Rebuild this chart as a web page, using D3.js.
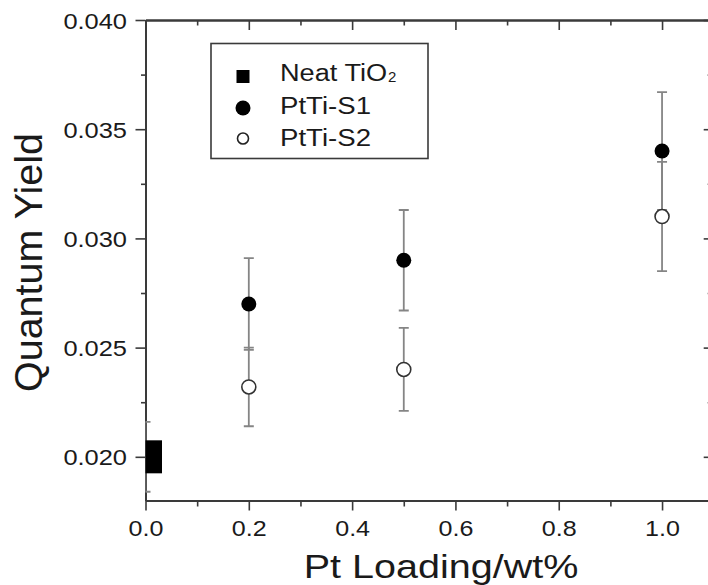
<!DOCTYPE html>
<html>
<head>
<meta charset="utf-8">
<script src="https://cdn.jsdelivr.net/npm/d3@7/dist/d3.min.js"></script>
<style>
  html, body { margin: 0; padding: 0; background: #fff; }
  svg { display: block; }
  text { font-family: "Liberation Sans", Arial, Helvetica, sans-serif; fill: #1a1a1a; }
</style>
</head>
<body>
<script>
// ---- data ----
const loadings = [0.2, 0.5, 1.0];
const s1Values = [0.027, 0.029, 0.034];
const s1Errors = [0.0021, 0.0023, 0.0027];
const s2Values = [0.0232, 0.024, 0.031];
const s2Errors = [0.0018, 0.0019, 0.0025];
const neatLoading = [0.0];
const neatValues = [0.020];
const neatErrors = [0.0016];
const xTickValues = [0, 0.2, 0.4, 0.6, 0.8, 1.0];
const xMinorValues = [0.1, 0.3, 0.5, 0.7, 0.9, 1.1];
const yTickValues = [0.020, 0.025, 0.030, 0.035, 0.040];
const yMinorValues = [0.0225, 0.0275, 0.0325, 0.0375];
const seriesNames = ["Neat TiO", "PtTi-S1", "PtTi-S2"];
const xTitle = "Pt Loading/wt%";
const yTitle = "Quantum Yield";

// ---- layout ----
const W = 708, H = 585;
const pLeft = 145.5, pRight = 713.7, pTop = 20, pBottom = 500.5;
const axisColor = "#3a3a3a";
const errColor = "#858585";

const svg = d3.select("body").append("svg").attr("width", W).attr("height", H);

const x = d3.scaleLinear().domain([0, 1.1]).range([pLeft, pRight]);
const y = d3.scaleLinear().domain([0.018, 0.040]).range([pBottom, pTop]);

// stretch helper: widen glyphs horizontally
function stretchText(sel, factor, anchor) {
  sel.each(function () {
    const t = d3.select(this);
    const w = this.getComputedTextLength();
    const L = w * factor;
    const ax = +t.attr("x") || 0;
    let x0 = ax;
    if (anchor === "middle") x0 = ax - L / 2;
    else if (anchor === "end") x0 = ax - L;
    t.attr("text-anchor", "start").attr("x", x0)
      .attr("textLength", L).attr("lengthAdjust", "spacingAndGlyphs");
  });
}

function styleAxis(g) {
  g.select(".domain").attr("stroke", axisColor).attr("stroke-width", 2);
  g.selectAll(".tick line").attr("stroke", axisColor).attr("stroke-width", 1.6);
}

// bottom axis (outward)
const gB = svg.append("g").attr("transform", `translate(0,${pBottom})`)
  .call(d3.axisBottom(x).tickValues(xTickValues).tickFormat(d3.format(".1f")).tickSize(10).tickSizeOuter(0).tickPadding(9));
styleAxis(gB);
gB.selectAll(".tick text").attr("font-size", 22).attr("fill", "#1a1a1a")
  .attr("dy", null).attr("y", 35).call(stretchText, 1.14, "middle");
const gBm = svg.append("g").attr("transform", `translate(0,${pBottom})`)
  .call(d3.axisBottom(x).tickValues(xMinorValues).tickFormat("").tickSize(6).tickSizeOuter(0));
styleAxis(gBm);

// top axis (inward)
const gT = svg.append("g").attr("transform", `translate(0,${pTop})`)
  .call(d3.axisBottom(x).tickValues(xTickValues).tickFormat("").tickSize(10).tickSizeOuter(0));
styleAxis(gT);
const gTm = svg.append("g").attr("transform", `translate(0,${pTop})`)
  .call(d3.axisBottom(x).tickValues(xMinorValues).tickFormat("").tickSize(5.5).tickSizeOuter(0));
styleAxis(gTm);

// left axis (outward)
const gL = svg.append("g").attr("transform", `translate(${pLeft},0)`)
  .call(d3.axisLeft(y).tickValues(yTickValues).tickFormat(d3.format(".3f")).tickSize(10).tickSizeOuter(0).tickPadding(9));
styleAxis(gL);
gL.selectAll(".tick text").attr("font-size", 22.5).attr("fill", "#1a1a1a")
  .attr("dy", "0.36em").attr("x", -18.5).call(stretchText, 1.13, "end");
const gLm = svg.append("g").attr("transform", `translate(${pLeft},0)`)
  .call(d3.axisLeft(y).tickValues(yMinorValues).tickFormat("").tickSize(4.5).tickSizeOuter(0));
styleAxis(gLm);

// right axis (inward)
const gR = svg.append("g").attr("transform", `translate(${pRight},0)`)
  .call(d3.axisLeft(y).tickValues(yTickValues).tickFormat("").tickSize(10).tickSizeOuter(0));
styleAxis(gR);
const gRm = svg.append("g").attr("transform", `translate(${pRight},0)`)
  .call(d3.axisLeft(y).tickValues(yMinorValues).tickFormat("").tickSize(6).tickSizeOuter(0));
styleAxis(gRm);

// clip
svg.append("clipPath").attr("id", "plotclip").append("rect")
  .attr("x", pLeft).attr("y", pTop).attr("width", pRight - pLeft).attr("height", pBottom - pTop);
const plot = svg.append("g").attr("clip-path", "url(#plotclip)");

// error bars
function errorBars(xs, vs, es) {
  const g = plot.append("g").attr("stroke", errColor).attr("stroke-width", 1.8).attr("fill", "none");
  xs.forEach((xv, i) => {
    const cx = x(xv), y1 = y(vs[i] + es[i]), y2 = y(vs[i] - es[i]);
    g.append("line").attr("x1", cx).attr("x2", cx).attr("y1", y1).attr("y2", y2);
    g.append("line").attr("x1", cx - 5).attr("x2", cx + 5).attr("y1", y1).attr("y2", y1);
    g.append("line").attr("x1", cx - 5).attr("x2", cx + 5).attr("y1", y2).attr("y2", y2);
  });
}
errorBars(neatLoading, neatValues, neatErrors);
errorBars(loadings, s1Values, s1Errors);
errorBars(loadings, s2Values, s2Errors);

// markers
const sq = 33;
plot.selectAll("rect.neat").data(neatLoading).enter().append("rect")
  .attr("x", d => x(d) - sq / 2).attr("y", (d, i) => y(neatValues[i]) - sq / 2)
  .attr("width", sq).attr("height", sq).attr("fill", "#000");
plot.selectAll("circle.s1").data(loadings).enter().append("circle")
  .attr("cx", d => x(d)).attr("cy", (d, i) => y(s1Values[i])).attr("r", 7.5).attr("fill", "#000");
plot.selectAll("circle.s2").data(loadings).enter().append("circle")
  .attr("cx", d => x(d)).attr("cy", (d, i) => y(s2Values[i])).attr("r", 7)
  .attr("fill", "#fff").attr("stroke", "#333").attr("stroke-width", 1.6);

// legend
const lg = svg.append("g");
lg.append("rect").attr("x", 211).attr("y", 43.5).attr("width", 217).attr("height", 115)
  .attr("fill", "#fff").attr("stroke", axisColor).attr("stroke-width", 1.6);
lg.append("rect").attr("x", 243 - 6.5).attr("y", 76.5 - 6.5).attr("width", 13).attr("height", 13).attr("fill", "#000");
lg.append("circle").attr("cx", 243).attr("cy", 108).attr("r", 7.5).attr("fill", "#000");
lg.append("circle").attr("cx", 243).attr("cy", 138.5).attr("r", 5.5).attr("fill", "#fff")
  .attr("stroke", "#222").attr("stroke-width", 1.6);
const baselines = [81, 114, 145.5];
const t0 = lg.append("text").attr("x", 280).attr("y", baselines[0]).attr("font-size", 23).text(seriesNames[0]);
lg.append("text").attr("x", 280).attr("y", baselines[1]).attr("font-size", 23).text(seriesNames[1])
  .call(stretchText, 1.2, "start");
lg.append("text").attr("x", 280).attr("y", baselines[2]).attr("font-size", 23).text(seriesNames[2])
  .call(stretchText, 1.2, "start");
// "Neat TiO" + subscript 2
{
  const w = t0.node().getComputedTextLength();
  t0.attr("textLength", w * 1.18).attr("lengthAdjust", "spacingAndGlyphs");
  lg.append("text").attr("x", 280 + w * 1.18 + 1).attr("y", baselines[0] + 0.5)
    .attr("font-size", 15).text("2");
}

// axis titles
svg.append("text").attr("x", 441).attr("y", 577.5).attr("font-size", 33.5)
  .text(xTitle).call(stretchText, 1.18, "middle");
svg.append("text").attr("transform", "translate(41.5,262.5) rotate(-90)")
  .attr("text-anchor", "middle").attr("font-size", 39.5).text(yTitle);
</script>
</body>
</html>
